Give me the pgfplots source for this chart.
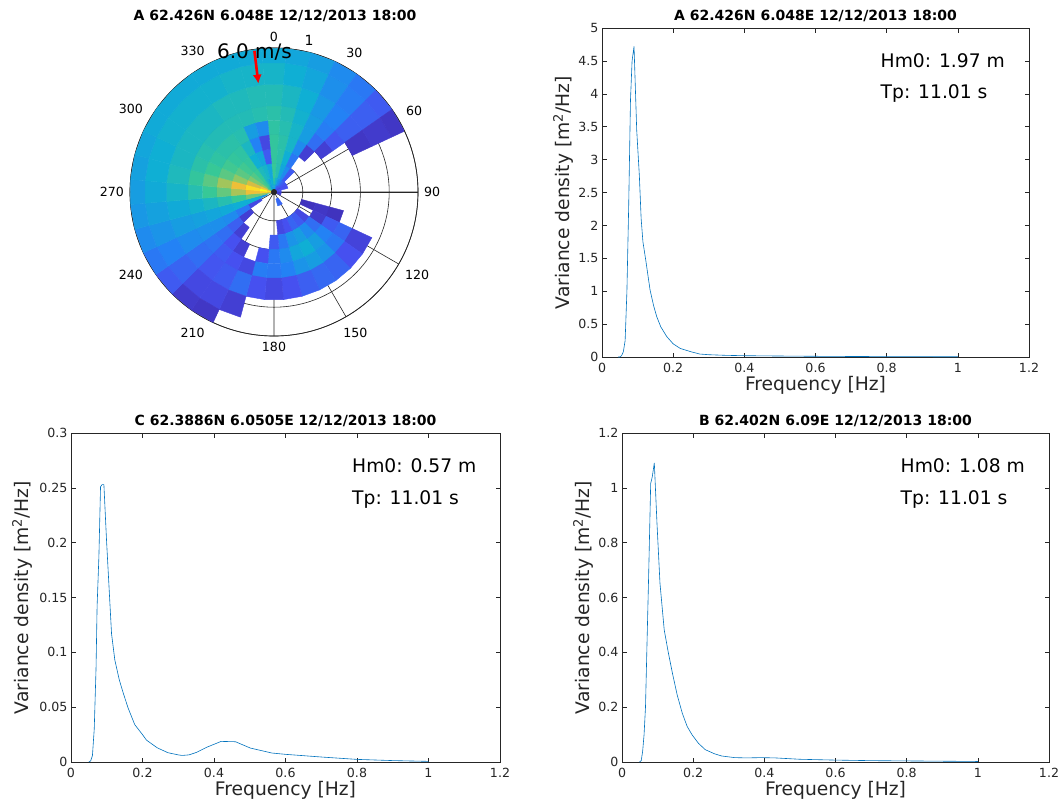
\documentclass[border=0pt]{standalone}
\usepackage{fontspec}
\setmainfont{DejaVu Sans}
\usepackage{pgfplots}
\pgfplotsset{compat=1.18}
\usepgfplotslibrary{polar}
\usetikzlibrary{arrows.meta}
\definecolor{mblue}{RGB}{0,114,189}
\definecolor{axgray}{RGB}{38,38,38}
\pgfplotsset{
 spec/.style={scale only axis, width=427pt, height=329pt, anchor=south west,
  xmin=0, xmax=1.2, ymin=0,
  xtick={0,0.2,0.4,0.6,0.8,1,1.2}, xticklabels={0,0.2,0.4,0.6,0.8,1,1.2},
  axis line style={axgray, line width=0.5pt},
  every tick/.style={axgray, line width=0.5pt}, major tick length=4.5pt,
  tick label style={font=\fontsize{12.6}{15}\selectfont, text=axgray},
  xticklabel style={yshift=-3pt},
  /pgf/number format/assume math mode=true,
 },
 cell/.style={surf, shader=flat corner, mesh/cols=2, point meta=explicit},
}
\newcommand\tfont{\fontsize{14}{16}\selectfont\bfseries}
\newcommand\lfont{\fontsize{18.7}{22}\selectfont}
\begin{document}
\begin{tikzpicture}
\path[use as bounding box] (0pt,0pt) rectangle (1064pt,-809pt);
% ---------------- polar directional spectrum ----------------
\begin{polaraxis}[
  at={(274pt,-192pt)}, anchor=center,
  scale only axis, width=288pt, height=288pt,
  ymin=0, ymax=1,
  xtick={0,30,60,90,120,150,180,210,240,270,300,330},
  xticklabels={90,60,30,0,330,300,270,240,210,180,150,120},
  ytick={0.2,0.4,0.6,0.8,1}, yticklabels={},
  xtick style={draw=none}, ytick style={draw=none},
  grid=major, major grid style={black!85, line width=0.6pt},
  axis line style={black!85, line width=0.7pt},
  tick label style={font=\fontsize{12.6}{15}\selectfont, text=black},
  xticklabel style={inner sep=6pt},
  colormap={parula}{rgb255=(62,38,168) rgb255=(70,80,240) rgb255=(35,130,245) rgb255=(15,175,212) rgb255=(55,200,151) rgb255=(145,200,100) rgb255=(230,185,60) rgb255=(252,205,45) rgb255=(249,251,21)},
  point meta min=1, point meta max=9,
]
% c=0
\addplot[cell] coordinates {(95,0)[4.5] (85,0)[4.5] (95,0.05)[4.8] (85,0.05)[4.8] (95,0.1)[5.0] (85,0.1)[5.0] (95,0.2)[4.9] (85,0.2)[4.9] (95,0.3)[4.9] (85,0.3)[4.9] (95,0.4)[4.8] (85,0.4)[4.8] (95,0.5)[4.7] (85,0.5)[4.7] (95,0.6)[4.5] (85,0.6)[4.5] (95,0.75)[4.2] (85,0.75)[4.2] (95,0.9)[3.9] (85,0.9)[3.9] (95,1)[3.9] (85,1)[3.9]};
% c=10
\addplot[cell] coordinates {(85,0)[3.8] (75,0)[3.8] (85,0.05)[4.2] (75,0.05)[4.2] (85,0.1)[4.6] (75,0.1)[4.6] (85,0.2)[4.7] (75,0.2)[4.7] (85,0.3)[4.7] (75,0.3)[4.7] (85,0.4)[4.6] (75,0.4)[4.6] (85,0.5)[4.5] (75,0.5)[4.5] (85,0.6)[4.3] (75,0.6)[4.3] (85,0.75)[4.0] (75,0.75)[4.0] (85,0.9)[3.8] (75,0.9)[3.8] (85,1)[3.8] (75,1)[3.8]};
% c=20
\addplot[cell] coordinates {(75,0)[3.0] (65,0)[3.0] (75,0.05)[3.5] (65,0.05)[3.5] (75,0.1)[3.8] (65,0.1)[3.8] (75,0.2)[4.0] (65,0.2)[4.0] (75,0.3)[4.2] (65,0.3)[4.2] (75,0.4)[4.2] (65,0.4)[4.2] (75,0.5)[4.1] (65,0.5)[4.1] (75,0.6)[4.0] (65,0.6)[4.0] (75,0.75)[3.8] (65,0.75)[3.8] (75,0.9)[3.6] (65,0.9)[3.6] (75,1)[3.6] (65,1)[3.6]};
% c=30
\addplot[cell] coordinates {(65,0)[2.5] (55,0)[2.5] (65,0.05)[3.0] (55,0.05)[3.0] (65,0.1)[3.2] (55,0.1)[3.2] (65,0.2)[2.8] (55,0.2)[2.8] (65,0.3)[3.2] (55,0.3)[3.2] (65,0.4)[3.6] (55,0.4)[3.6] (65,0.5)[3.6] (55,0.5)[3.6] (65,0.6)[3.5] (55,0.6)[3.5] (65,0.75)[3.3] (55,0.75)[3.3] (65,0.9)[3.2] (55,0.9)[3.2] (65,1)[3.2] (55,1)[3.2]};
% c=40
\addplot[cell] coordinates {(55,0)[2.2] (45,0)[2.2] (55,0.05)[2.5] (45,0.05)[2.5] (55,0.1)[2.2] (45,0.1)[2.2] (55,0.2)[2.2] (45,0.2)[2.2]};
\addplot[cell] coordinates {(55,0.3)[1.6] (45,0.3)[1.6] (55,0.4)[2.6] (45,0.4)[2.6] (55,0.5)[2.9] (45,0.5)[2.9] (55,0.6)[3.0] (45,0.6)[3.0] (55,0.75)[2.9] (45,0.75)[2.9] (55,0.9)[2.8] (45,0.9)[2.8] (55,1)[2.8] (45,1)[2.8]};
% c=50
\addplot[cell] coordinates {(45,0)[2.0] (35,0)[2.0] (45,0.05)[2.2] (35,0.05)[2.2] (45,0.1)[2.2] (35,0.1)[2.2]};
\addplot[cell] coordinates {(45,0.4)[1.6] (35,0.4)[1.6] (45,0.5)[2.1] (35,0.5)[2.1] (45,0.6)[2.3] (35,0.6)[2.3] (45,0.75)[2.3] (35,0.75)[2.3] (45,0.9)[2.2] (35,0.9)[2.2] (45,1)[2.2] (35,1)[2.2]};
% c=60
\addplot[cell] coordinates {(35,0)[1.8] (25,0)[1.8] (35,0.05)[2.0] (25,0.05)[2.0] (35,0.1)[2.0] (25,0.1)[2.0]};
\addplot[cell] coordinates {(35,0.6)[1.4] (25,0.6)[1.4] (35,0.75)[1.5] (25,0.75)[1.5] (35,0.9)[1.4] (25,0.9)[1.4] (35,1)[1.4] (25,1)[1.4]};
% c=70..110 near centre
\addplot[cell] coordinates {(25,0)[2.2] (15,0)[2.2] (25,0.05)[2.0] (15,0.05)[2.0] (25,0.1)[2.0] (15,0.1)[2.0]};
\addplot[cell] coordinates {(15,0)[2.0] (5,0)[2.0] (15,0.05)[2.0] (5,0.05)[2.0]};
\addplot[cell] coordinates {(5,0)[1.8] (-5,0)[1.8] (5,0.05)[1.8] (-5,0.05)[1.8]};
\addplot[cell] coordinates {(355,0)[1.6] (345,0)[1.6] (355,0.05)[1.6] (345,0.05)[1.6]};
\addplot[cell] coordinates {(345,0)[1.6] (335,0)[1.6] (345,0.05)[1.6] (335,0.05)[1.6]};
% c=110
\addplot[cell] coordinates {(345,0.2)[1.3] (335,0.2)[1.3] (345,0.3)[1.4] (335,0.3)[1.4] (345,0.4)[1.3] (335,0.4)[1.3] (345,0.5)[1.3] (335,0.5)[1.3]};
% c=120
\addplot[cell] coordinates {(335,0.3)[1.5] (325,0.3)[1.5] (335,0.4)[2.2] (325,0.4)[2.2] (335,0.5)[2.4] (325,0.5)[2.4] (335,0.6)[1.7] (325,0.6)[1.7] (335,0.75)[1.7] (325,0.75)[1.7]};
% c=130
\addplot[cell] coordinates {(325,0.2)[1.8] (315,0.2)[1.8] (325,0.3)[2.6] (315,0.3)[2.6] (325,0.4)[3.0] (315,0.4)[3.0] (325,0.5)[2.8] (315,0.5)[2.8] (325,0.6)[2.0] (315,0.6)[2.0] (325,0.75)[2.0] (315,0.75)[2.0]};
% c=140
\addplot[cell] coordinates {(315,0.2)[2.2] (305,0.2)[2.2] (315,0.3)[3.2] (305,0.3)[3.2] (315,0.4)[3.6] (305,0.4)[3.6] (315,0.5)[3.4] (305,0.5)[3.4] (315,0.6)[2.4] (305,0.6)[2.4] (315,0.75)[2.4] (305,0.75)[2.4]};
% c=150
\addplot[cell] coordinates {(305,0.05)[2.4] (295,0.05)[2.4] (305,0.1)[2.4] (295,0.1)[2.4]};
\addplot[cell] coordinates {(305,0.2)[2.4] (295,0.2)[2.4] (305,0.3)[3.6] (295,0.3)[3.6] (305,0.4)[4.0] (295,0.4)[4.0] (305,0.5)[3.6] (295,0.5)[3.6] (305,0.6)[2.5] (295,0.6)[2.5] (305,0.75)[2.5] (295,0.75)[2.5]};
% c=160
\addplot[cell] coordinates {(295,0.05)[2.5] (285,0.05)[2.5] (295,0.1)[2.5] (285,0.1)[2.5]};
\addplot[cell] coordinates {(295,0.2)[2.0] (285,0.2)[2.0] (295,0.3)[3.4] (285,0.3)[3.4] (295,0.4)[3.8] (285,0.4)[3.8] (295,0.5)[3.4] (285,0.5)[3.4] (295,0.6)[2.3] (285,0.6)[2.3] (295,0.75)[2.3] (285,0.75)[2.3]};
% c=170
\addplot[cell] coordinates {(285,0.2)[1.8] (275,0.2)[1.8] (285,0.3)[2.8] (275,0.3)[2.8] (285,0.4)[3.2] (275,0.4)[3.2] (285,0.5)[3.0] (275,0.5)[3.0] (285,0.6)[2.0] (275,0.6)[2.0] (285,0.75)[2.0] (275,0.75)[2.0]};
% c=180
\addplot[cell] coordinates {(275,0.3)[2.2] (265,0.3)[2.2] (275,0.4)[2.8] (265,0.4)[2.8] (275,0.5)[2.8] (265,0.5)[2.8] (275,0.6)[1.8] (265,0.6)[1.8] (275,0.75)[1.8] (265,0.75)[1.8]};
% c=190
\addplot[cell] coordinates {(265,0.4)[2.0] (255,0.4)[2.0] (265,0.5)[2.9] (255,0.5)[2.9] (265,0.6)[2.0] (255,0.6)[2.0] (265,0.75)[2.0] (255,0.75)[2.0]};
% c=200
\addplot[cell] coordinates {(255,0.5)[1.8] (245,0.5)[1.8] (255,0.6)[2.6] (245,0.6)[2.6] (255,0.75)[1.6] (245,0.75)[1.6] (255,0.9)[1.6] (245,0.9)[1.6]};
% c=210
\addplot[cell] coordinates {(245,0.4)[1.6] (235,0.4)[1.6] (245,0.5)[2.0] (235,0.5)[2.0] (245,0.6)[2.2] (235,0.6)[2.2] (245,0.75)[1.8] (235,0.75)[1.8] (245,0.9)[1.4] (235,0.9)[1.4] (245,1)[1.4] (235,1)[1.4]};
% c=220
\addplot[cell] coordinates {(235,0.3)[1.6] (225,0.3)[1.6] (235,0.4)[2.0] (225,0.4)[2.0] (235,0.5)[2.2] (225,0.5)[2.2] (235,0.6)[2.1] (225,0.6)[2.1] (235,0.75)[1.8] (225,0.75)[1.8] (235,0.9)[1.5] (225,0.9)[1.5] (235,1)[1.5] (225,1)[1.5]};
% c=230
\addplot[cell] coordinates {(225,0.2)[1.6] (215,0.2)[1.6] (225,0.3)[2.3] (215,0.3)[2.3] (225,0.4)[2.6] (215,0.4)[2.6] (225,0.5)[2.7] (215,0.5)[2.7] (225,0.6)[2.6] (215,0.6)[2.6] (225,0.75)[2.4] (215,0.75)[2.4] (225,0.9)[2.2] (215,0.9)[2.2] (225,1)[2.2] (215,1)[2.2]};
% c=240
\addplot[cell] coordinates {(215,0.1)[1.8] (205,0.1)[1.8] (215,0.2)[2.8] (205,0.2)[2.8] (215,0.3)[3.2] (205,0.3)[3.2] (215,0.4)[3.3] (205,0.4)[3.3] (215,0.5)[3.3] (205,0.5)[3.3] (215,0.6)[3.2] (205,0.6)[3.2] (215,0.75)[3.0] (205,0.75)[3.0] (215,0.9)[2.8] (205,0.9)[2.8] (215,1)[2.8] (205,1)[2.8]};
% c=250
\addplot[cell] coordinates {(205,0.05)[3.5] (195,0.05)[3.5] (205,0.1)[4.0] (195,0.1)[4.0] (205,0.2)[4.0] (195,0.2)[4.0] (205,0.3)[3.9] (195,0.3)[3.9] (205,0.4)[3.8] (195,0.4)[3.8] (205,0.5)[3.7] (195,0.5)[3.7] (205,0.6)[3.6] (195,0.6)[3.6] (205,0.75)[3.4] (195,0.75)[3.4] (205,0.9)[3.2] (195,0.9)[3.2] (205,1)[3.2] (195,1)[3.2]};
% c=260
\addplot[cell] coordinates {(195,0)[5.5] (185,0)[5.5] (195,0.05)[6.0] (185,0.05)[6.0] (195,0.1)[5.6] (185,0.1)[5.6] (195,0.2)[5.0] (185,0.2)[5.0] (195,0.3)[4.6] (185,0.3)[4.6] (195,0.4)[4.3] (185,0.4)[4.3] (195,0.5)[4.1] (185,0.5)[4.1] (195,0.6)[3.9] (185,0.6)[3.9] (195,0.75)[3.7] (185,0.75)[3.7] (195,0.9)[3.5] (185,0.9)[3.5] (195,1)[3.5] (185,1)[3.5]};
% c=270
\addplot[cell] coordinates {(185,0)[7.5] (175,0)[7.5] (185,0.05)[8.0] (175,0.05)[8.0] (185,0.1)[7.3] (175,0.1)[7.3] (185,0.2)[6.3] (175,0.2)[6.3] (185,0.3)[5.5] (175,0.3)[5.5] (185,0.4)[5.0] (175,0.4)[5.0] (185,0.5)[4.6] (175,0.5)[4.6] (185,0.6)[4.2] (175,0.6)[4.2] (185,0.75)[3.9] (175,0.75)[3.9] (185,0.9)[3.6] (175,0.9)[3.6] (185,1)[3.6] (175,1)[3.6]};
% c=280
\addplot[cell] coordinates {(175,0)[8.5] (165,0)[8.5] (175,0.05)[9.0] (165,0.05)[9.0] (175,0.1)[8.3] (165,0.1)[8.3] (175,0.2)[7.3] (165,0.2)[7.3] (175,0.3)[6.2] (165,0.3)[6.2] (175,0.4)[5.4] (165,0.4)[5.4] (175,0.5)[4.9] (165,0.5)[4.9] (175,0.6)[4.4] (165,0.6)[4.4] (175,0.75)[4.0] (165,0.75)[4.0] (175,0.9)[3.7] (165,0.9)[3.7] (175,1)[3.7] (165,1)[3.7]};
% c=290
\addplot[cell] coordinates {(165,0)[7.0] (155,0)[7.0] (165,0.05)[7.5] (155,0.05)[7.5] (165,0.1)[6.8] (155,0.1)[6.8] (165,0.2)[6.0] (155,0.2)[6.0] (165,0.3)[5.4] (155,0.3)[5.4] (165,0.4)[5.0] (155,0.4)[5.0] (165,0.5)[4.7] (155,0.5)[4.7] (165,0.6)[4.3] (155,0.6)[4.3] (165,0.75)[4.0] (155,0.75)[4.0] (165,0.9)[3.8] (155,0.9)[3.8] (165,1)[3.8] (155,1)[3.8]};
% c=300
\addplot[cell] coordinates {(155,0)[5.5] (145,0)[5.5] (155,0.05)[6.0] (145,0.05)[6.0] (155,0.1)[5.8] (145,0.1)[5.8] (155,0.2)[5.4] (145,0.2)[5.4] (155,0.3)[5.1] (145,0.3)[5.1] (155,0.4)[4.8] (145,0.4)[4.8] (155,0.5)[4.6] (145,0.5)[4.6] (155,0.6)[4.3] (145,0.6)[4.3] (155,0.75)[4.1] (145,0.75)[4.1] (155,0.9)[3.9] (145,0.9)[3.9] (155,1)[3.9] (145,1)[3.9]};
% c=310
\addplot[cell] coordinates {(145,0)[4.8] (135,0)[4.8] (145,0.05)[5.2] (135,0.05)[5.2] (145,0.1)[5.3] (135,0.1)[5.3] (145,0.2)[5.1] (135,0.2)[5.1] (145,0.3)[4.9] (135,0.3)[4.9] (145,0.4)[4.7] (135,0.4)[4.7] (145,0.5)[4.5] (135,0.5)[4.5] (145,0.6)[4.3] (135,0.6)[4.3] (145,0.75)[4.1] (135,0.75)[4.1] (145,0.9)[3.9] (135,0.9)[3.9] (145,1)[3.9] (135,1)[3.9]};
% c=320
\addplot[cell] coordinates {(135,0)[4.6] (125,0)[4.6] (135,0.05)[4.9] (125,0.05)[4.9] (135,0.1)[5.0] (125,0.1)[5.0] (135,0.2)[4.9] (125,0.2)[4.9] (135,0.3)[4.8] (125,0.3)[4.8] (135,0.4)[4.7] (125,0.4)[4.7] (135,0.5)[4.5] (125,0.5)[4.5] (135,0.6)[4.3] (125,0.6)[4.3] (135,0.75)[4.1] (125,0.75)[4.1] (135,0.9)[3.9] (125,0.9)[3.9] (135,1)[3.9] (125,1)[3.9]};
% c=330
\addplot[cell] coordinates {(125,0)[4.0] (115,0)[4.0] (125,0.05)[4.3] (115,0.05)[4.3] (125,0.1)[4.4] (115,0.1)[4.4] (125,0.2)[4.0] (115,0.2)[4.0] (125,0.3)[4.3] (115,0.3)[4.3] (125,0.4)[4.6] (115,0.4)[4.6] (125,0.5)[4.5] (115,0.5)[4.5] (125,0.6)[4.4] (115,0.6)[4.4] (125,0.75)[4.1] (115,0.75)[4.1] (125,0.9)[3.9] (115,0.9)[3.9] (125,1)[3.9] (115,1)[3.9]};
% c=340
\addplot[cell] coordinates {(115,0)[3.5] (105,0)[3.5] (115,0.05)[3.8] (105,0.05)[3.8] (115,0.1)[4.2] (105,0.1)[4.2] (115,0.2)[3.8] (105,0.2)[3.8] (115,0.3)[3.0] (105,0.3)[3.0] (115,0.4)[3.6] (105,0.4)[3.6] (115,0.5)[4.5] (105,0.5)[4.5] (115,0.6)[4.4] (105,0.6)[4.4] (115,0.75)[4.2] (105,0.75)[4.2] (115,0.9)[3.9] (105,0.9)[3.9] (115,1)[3.9] (105,1)[3.9]};
% c=350
\addplot[cell] coordinates {(105,0)[3.8] (95,0)[3.8] (105,0.05)[4.0] (95,0.05)[4.0] (105,0.1)[3.8] (95,0.1)[3.8] (105,0.2)[2.2] (95,0.2)[2.2] (105,0.3)[1.8] (95,0.3)[1.8] (105,0.4)[3.2] (95,0.4)[3.2] (105,0.5)[4.6] (95,0.5)[4.6] (105,0.6)[4.5] (95,0.6)[4.5] (105,0.75)[4.2] (95,0.75)[4.2] (105,0.9)[3.9] (95,0.9)[3.9] (105,1)[3.9] (95,1)[3.9]};
% wind arrow
\addplot[red, line width=2.6pt, -{Latex[length=9pt,width=9pt]}] coordinates {(97.9,0.99) (98.2,0.76)};
\end{polaraxis}
\fill[black!85] (274pt,-192pt) circle (3pt);
\node[font=\tfont] at (275pt,-16pt) {A 62.426N 6.048E 12/12/2013 18:00};
\node[font=\fontsize{20}{24}\selectfont, inner sep=0pt] at (254.5pt,-52pt) {6.0 m/s};
\node[font=\fontsize{14}{16}\selectfont] at (309pt,-40pt) {1};
% ---------------- spectrum A ----------------
\begin{axis}[spec, at={(602pt,-357pt)}, ymax=5,
  ytick={0,0.5,1,1.5,2,2.5,3,3.5,4,4.5,5}, yticklabels={0,0.5,1,1.5,2,2.5,3,3.5,4,4.5,5}]
\addplot[mblue, line width=0.6pt] coordinates {(0.045,0) (0.05,0) (0.055,0.02) (0.06,0.08) (0.065,0.25) (0.07,1.0) (0.075,2.3) (0.08,3.9) (0.0845,4.5) (0.09,4.72) (0.0975,3.45) (0.105,2.75) (0.11,2.1) (0.115,1.75) (0.123,1.47) (0.135,1.02) (0.145,0.78) (0.154,0.61) (0.165,0.46) (0.182,0.31) (0.2,0.2) (0.22,0.13) (0.25,0.08) (0.275,0.045) (0.3,0.035) (0.35,0.025) (0.4,0.02) (0.5,0.015) (0.6,0.011) (0.7,0.008) (0.8,0.006) (0.9,0.005) (1.0,0.004)};
\end{axis}
\node[font=\tfont] at (815.5pt,-16pt) {A 62.426N 6.048E 12/12/2013 18:00};
\node[font=\lfont, text=axgray] at (815.5pt,-385pt) {Frequency [Hz]};
\node[font=\lfont, text=axgray, rotate=90] at (563pt,-192.5pt) {Variance density [m\textsuperscript{2}/Hz]};
\node[font=\lfont, anchor=west, inner sep=0pt] at (880.5pt,-61pt) {Hm0: 1.97 m};
\node[font=\lfont, anchor=west, inner sep=0pt] at (880.5pt,-94pt) {Tp: 11.01 s};
% ---------------- spectrum C ----------------
\begin{axis}[spec, at={(71pt,-762pt)}, width=429pt, ymax=0.3,
  ytick={0,0.05,0.1,0.15,0.2,0.25,0.3}, yticklabels={0,0.05,0.1,0.15,0.2,0.25,0.3}]
\addplot[mblue, line width=0.6pt] coordinates {(0.05,0) (0.055,0.001) (0.06,0.006) (0.065,0.03) (0.07,0.085) (0.073,0.142) (0.078,0.187) (0.0826,0.251) (0.087,0.253) (0.092,0.253) (0.0994,0.202) (0.1068,0.157) (0.1134,0.117) (0.1226,0.093) (0.135,0.075) (0.146,0.063) (0.16,0.049) (0.1785,0.034) (0.2,0.025) (0.211,0.02) (0.241,0.013) (0.271,0.0085) (0.3,0.0065) (0.311,0.006) (0.33,0.0065) (0.351,0.0088) (0.38,0.0135) (0.42,0.0188) (0.46,0.0185) (0.502,0.0127) (0.562,0.0082) (0.6,0.007) (0.703,0.0045) (0.8,0.0024) (0.9,0.0013) (1.0,0.0006)};
\end{axis}
\node[font=\tfont] at (285.5pt,-421pt) {C 62.3886N 6.0505E 12/12/2013 18:00};
\node[font=\lfont, text=axgray] at (285.5pt,-790pt) {Frequency [Hz]};
\node[font=\lfont, text=axgray, rotate=90] at (22pt,-597.5pt) {Variance density [m\textsuperscript{2}/Hz]};
\node[font=\lfont, anchor=west, inner sep=0pt] at (352pt,-466pt) {Hm0: 0.57 m};
\node[font=\lfont, anchor=west, inner sep=0pt] at (352pt,-499pt) {Tp: 11.01 s};
% ---------------- spectrum B ----------------
\begin{axis}[spec, at={(622pt,-762pt)}, ymax=1.2,
  ytick={0,0.2,0.4,0.6,0.8,1,1.2}, yticklabels={0,0.2,0.4,0.6,0.8,1,1.2}]
\addplot[mblue, line width=0.6pt] coordinates {(0.049,0) (0.054,0.005) (0.058,0.039) (0.062,0.1) (0.066,0.2) (0.0705,0.445) (0.075,0.688) (0.0806,1.016) (0.085,1.04) (0.0908,1.091) (0.0983,0.87) (0.1067,0.652) (0.1186,0.482) (0.13,0.40) (0.1417,0.324) (0.155,0.245) (0.1694,0.178) (0.183,0.13) (0.197,0.099) (0.215,0.068) (0.234,0.045) (0.26,0.03) (0.28,0.022) (0.317,0.016) (0.35,0.015) (0.39,0.016) (0.43,0.015) (0.5,0.01) (0.6,0.007) (0.7,0.005) (0.8,0.004) (0.9,0.003) (1.0,0.002)};
\end{axis}
\node[font=\tfont] at (835.5pt,-421pt) {B 62.402N 6.09E 12/12/2013 18:00};
\node[font=\lfont, text=axgray] at (835.5pt,-790pt) {Frequency [Hz]};
\node[font=\lfont, text=axgray, rotate=90] at (583pt,-597.5pt) {Variance density [m\textsuperscript{2}/Hz]};
\node[font=\lfont, anchor=west, inner sep=0pt] at (900.5pt,-466pt) {Hm0: 1.08 m};
\node[font=\lfont, anchor=west, inner sep=0pt] at (900.5pt,-499pt) {Tp: 11.01 s};
\end{tikzpicture}
\end{document}
